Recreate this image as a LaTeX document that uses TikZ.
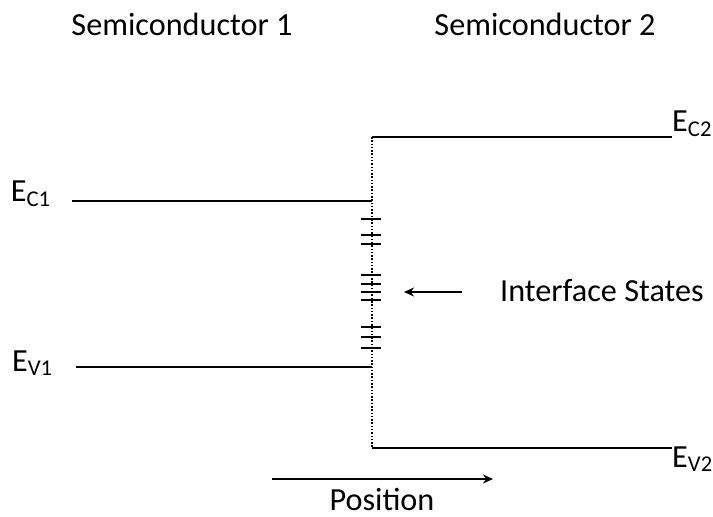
\documentclass[tikz,border=0pt]{standalone}
\usepackage{fontspec}
\setmainfont{Carlito}
\usetikzlibrary{arrows.meta, positioning}

\begin{document}
\begin{tikzpicture}[
  x=0.03cm, y=-0.03cm,
  >={Stealth[length=3mm, width=2.7mm]},
  every node/.style={font=\fontsize{27.5}{33}\selectfont, inner sep=0pt},
  level/.style={line width=2.2pt},
  iface/.style={line width=2pt, dash pattern=on 1.3pt off 1.5pt},
  trap/.style={line width=2.2pt},
  pointer/.style={->, line width=2.1pt}
]
\useasboundingbox (0,0) rectangle (713,517);
% column titles
\node (sc1) at (182,24) {Semiconductor 1};
\node (sc2) at (545,24) {Semiconductor 2};
% band edges
\coordinate (ec1L) at (72,201);
\coordinate (ec1R) at (372,201);
\coordinate (ev1L) at (76,367);
\coordinate (ev1R) at (372,367);
\coordinate (ec2L) at (372,137);
\coordinate (ec2R) at (672,137);
\coordinate (ev2L) at (372,448);
\coordinate (ev2R) at (672,448);
\draw[level] (ec1L) -- (ec1R);
\draw[level] (ev1L) -- (ev1R);
\draw[level] (ec2L) -- (ec2R);
\draw[level] (ev2L) -- (ev2R);
\draw[iface] (ec2L) -- (ev2L);
\node[anchor=base east] (lec1) at ([xshift=-21*0.03cm, yshift=-1*0.03cm]ec1L) {E\textsubscript{C1}};
\node[anchor=base east] (lev1) at ([xshift=-23*0.03cm, yshift=-4*0.03cm]ev1L) {E\textsubscript{V1}};
\node[anchor=base west] (lec2) at ([yshift=5*0.03cm]ec2R) {E\textsubscript{C2}};
\node[anchor=base west] (lev2) at ([yshift=-19*0.03cm]ev2R) {E\textsubscript{V2}};
% interface states
\foreach \yy in {219,235,244,275,284,292,300,327,337,348}
  \draw[trap] (361,\yy) -- (381,\yy);
\node[anchor=west] (ifs) at (500,291) {Interface States};
\coordinate (ifTail) at (462,292);
\coordinate (ifTip) at (404,292);
\draw[pointer] (ifTail) -- (ifTip);
% position axis
\coordinate (posL) at (272,479);
\coordinate (posR) at (493,479);
\draw[pointer] (posL) -- (posR);
\node (pos) at (382,499) {Position};
\end{tikzpicture}
\end{document}
